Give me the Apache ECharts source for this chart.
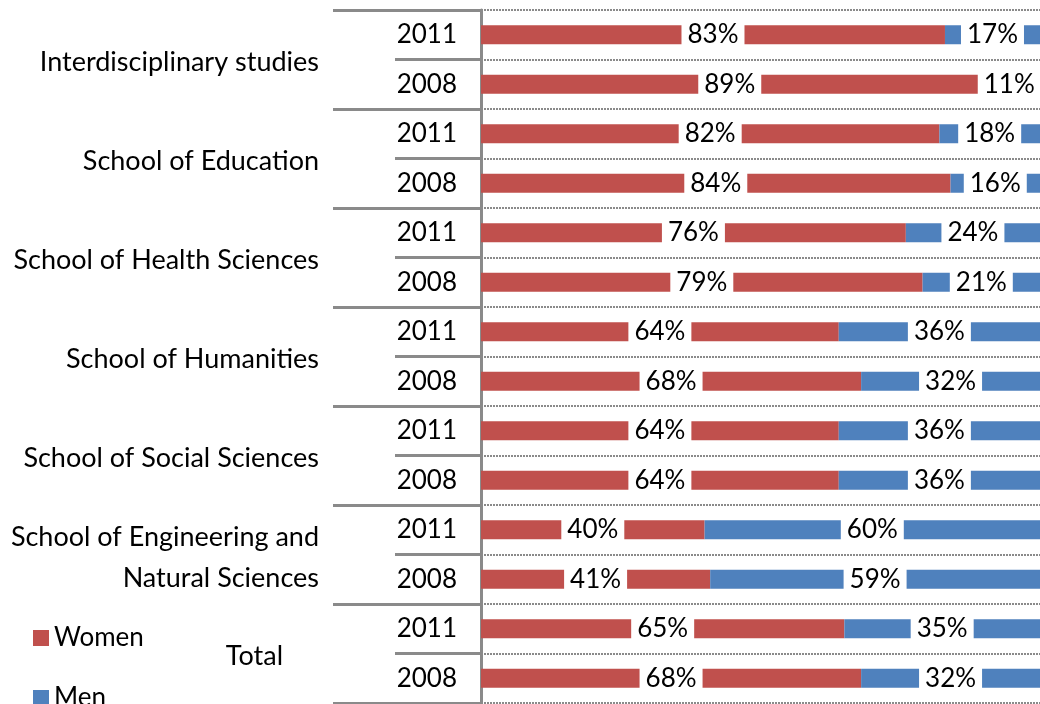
<!DOCTYPE html>
<html><head><meta charset="utf-8">
<script src="https://cdn.jsdelivr.net/npm/echarts@6/dist/echarts.min.js"></script>
<style>html,body{margin:0;padding:0;background:#fff}#c{width:1040px;height:704px}</style>
</head><body><div id="c"></div>
<script>
const groups = ['Interdisciplinary studies','School of Education','School of Health Sciences','School of Humanities','School of Social Sciences','School of Engineering and\nNatural Sciences','Total'];
const years = ['2011','2008','2011','2008','2011','2008','2011','2008','2011','2008','2011','2008','2011','2008'];
const women = [83,89,82,84,76,79,64,68,64,64,40,41,65,68];
const men   = [17,11,18,16,24,21,36,32,36,36,60,59,35,32];

const FONT = 'Lato';
const GRAY = '#8a8a8a';
const chart = echarts.init(document.getElementById('c'));
const lbl = {show:true, position:'inside', formatter:'{c}%', backgroundColor:'#fff', padding:[4,6,0,6], color:'#000', fontSize:26, fontFamily:FONT};
const legBase = {orient:'vertical', left:33, padding:0, itemWidth:16, itemHeight:16, icon:'rect',
    textStyle:{fontSize:26, color:'#000', fontFamily:FONT}};
chart.setOption({
  animation:false,
  textStyle:{fontFamily:FONT},
  legend:[
    Object.assign({data:['Women'], top:625}, legBase),
    Object.assign({data:['Men'], top:685}, legBase)
  ],
  grid:{left:481, right:-3, top:10, bottom:1},
  xAxis:{type:'value', min:0, max:100, show:false},
  yAxis:[
    {type:'category', data:years, inverse:true,
     axisLine:{show:true, lineStyle:{color:GRAY, width:3}},
     axisTick:{show:true, length:86, interval:0, lineStyle:{color:GRAY, width:3}},
     axisLabel:{margin:24, fontSize:26, color:'#000', fontFamily:FONT, interval:0, padding:[4,0,0,0]},
     splitLine:{show:true, interval:0, lineStyle:{color:GRAY, width:2, type:[2,1]}}},
    {type:'category', data:groups, inverse:true, position:'left', offset:0,
     axisLine:{show:false},
     axisTick:{show:true, length:148, interval:0, lineStyle:{color:GRAY, width:3}},
     axisLabel:{margin:162, fontSize:27, color:'#000', fontFamily:FONT, interval:0, align:'right', lineHeight:41,
       padding:[6,0,0,0],
       formatter:function(v){return v==='Total' ? '{t|'+v+'}' : v;},
       rich:{t:{fontSize:27, fontFamily:FONT, color:'#000', padding:[0,36,0,0]}}},
     splitLine:{show:false}}
  ],
  series:[
    {name:'Women', type:'bar', stack:'a', data:women, barWidth:19, itemStyle:{color:'#C0504D'}, label:lbl},
    {name:'Men', type:'bar', stack:'a', data:men, barWidth:19, itemStyle:{color:'#4F81BD'}, label:lbl}
  ]
});
</script></body></html>
